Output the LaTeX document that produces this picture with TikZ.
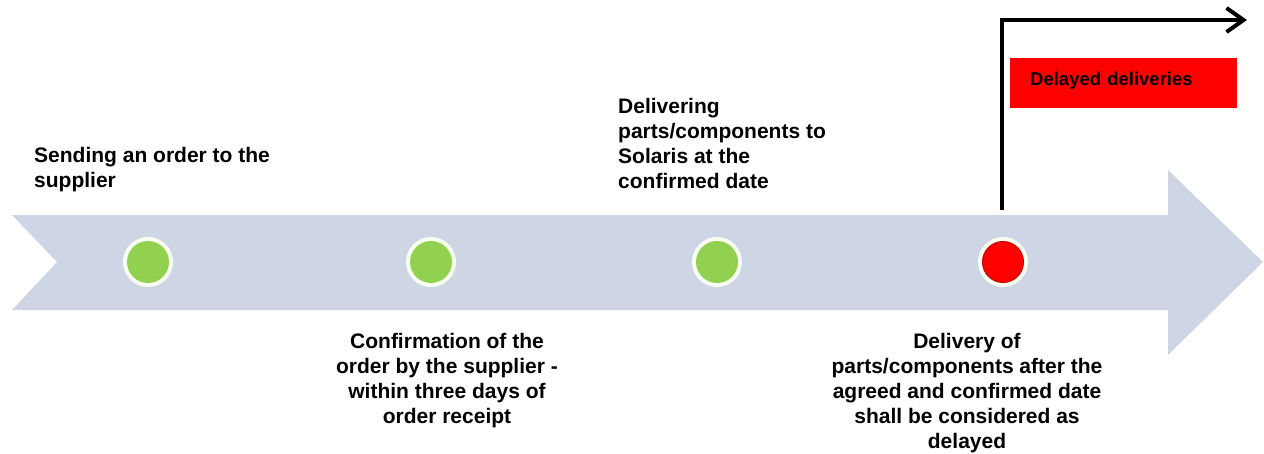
\documentclass[tikz,border=0pt]{standalone}
\usepackage{fontspec}
\setmainfont{Liberation Sans}
\usetikzlibrary{arrows.meta}
\definecolor{bandcol}{RGB}{206,214,229}
\definecolor{okgreen}{RGB}{146,208,80}
\definecolor{ringcol}{RGB}{248,255,240}
\definecolor{badred}{RGB}{255,0,0}
\definecolor{badedge}{RGB}{200,0,0}
\tikzset{
  lbl/.style={inner sep=0pt, font=\fontsize{21}{25}\selectfont\bfseries},
  ring/.style={circle, fill=ringcol, minimum size=50pt, inner sep=0pt},
  goodpt/.style={circle, fill=okgreen, minimum size=42pt, inner sep=0pt},
  badpt/.style={circle, fill=badred, draw=badedge, line width=1pt, minimum size=41pt, inner sep=0pt},
  delaybox/.style={fill=badred, minimum width=227pt, minimum height=50pt, inner sep=0pt,
    text width=187pt, align=left, text height=15pt, text depth=11pt,
    font=\fontsize{18.5}{22}\selectfont\bfseries},
  flowline/.style={line width=4pt, line join=miter, -{Straight Barb[length=17pt,width=24pt,line width=4pt]}}
}
\begin{document}
\begin{tikzpicture}[x=1pt,y=-1pt]
\useasboundingbox (0,0) rectangle (1264,453);
% timeline band
\fill[bandcol] (12,215) -- (1168,215) -- (1168,170) -- (1263,262) -- (1168,355)
  -- (1168,310) -- (12,310) -- (57,262) -- cycle;
% milestones
\node[ring] (r1) at (148,262) {};
\node[goodpt] (m1) at (148,262) {};
\node[ring] (r2) at (431,262) {};
\node[goodpt] (m2) at (431,262) {};
\node[ring] (r3) at (717,262) {};
\node[goodpt] (m3) at (717,262) {};
\node[ring] (r4) at (1003,262) {};
\node[badpt] (m4) at (1003,262) {};
% labels
\node[lbl, anchor=north west, align=left] (t1) at (34,147)
  {Sending an order to the\\supplier};
\node[lbl, anchor=north, align=center] (t2) at (447,333)
  {Confirmation of the\\order by the supplier -\\within three days of\\order receipt};
\node[lbl, anchor=north west, align=left] (t3) at (618,98)
  {Delivering\\parts/components to\\Solaris at the\\confirmed date};
\node[lbl, anchor=north, align=center] (t4) at (967,333)
  {Delivery of\\parts/components after the\\agreed and confirmed date\\shall be considered as\\delayed};
% delayed branch
\coordinate (d0) at (1002,210);
\coordinate (d1) at (1247,20);
\draw[flowline] (d0) |- (d1);
\node[delaybox, anchor=north west] (db) at (1010,58) {Delayed deliveries};
\end{tikzpicture}
\end{document}
